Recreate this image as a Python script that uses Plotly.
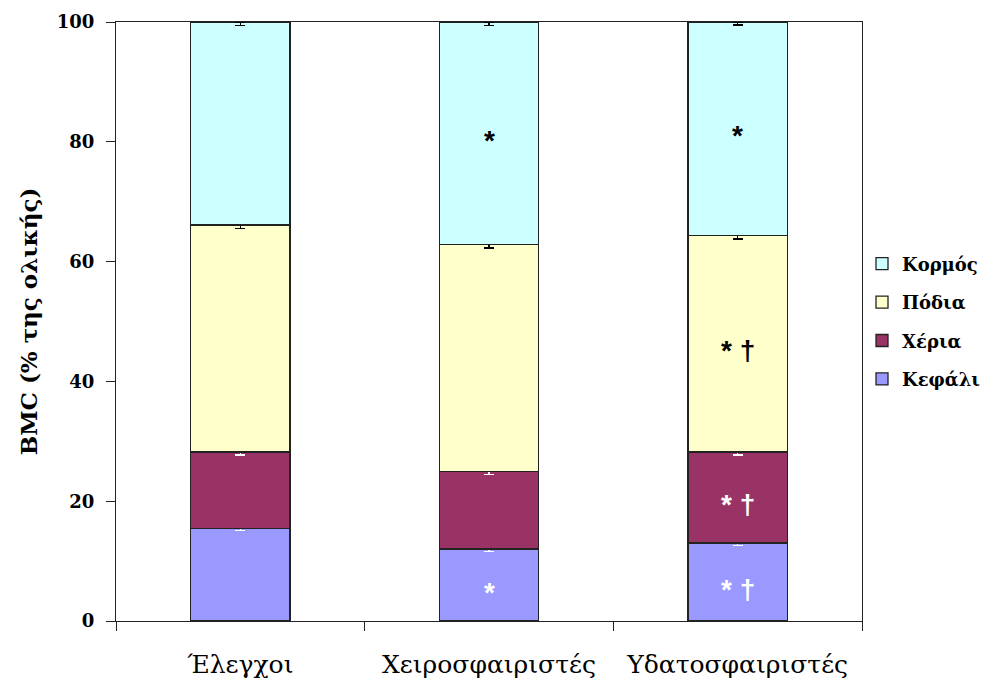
import plotly.graph_objects as go

# Groups and regional BMC shares (% of total), stacked bottom to top
groups = ["Έλεγχοι", "Χειροσφαιριστές", "Υδατοσφαιριστές"]
kefali = [15.5, 12.0, 13.0]
xeria = [12.7, 13.0, 15.2]
podia = [37.9, 37.9, 36.2]
kormos = [33.9, 37.1, 35.6]

# Standard errors (drawn downwards from each segment top)
kefali_err = [0.4, 0.4, 0.4]
xeria_err = [0.5, 0.5, 0.5]
podia_err = [0.6, 0.6, 0.6]
kormos_err = [0.6, 0.6, 0.5]

# Significance marks inside each segment
kefali_sig = ["", "*", "* †"]
xeria_sig = ["", "", "* †"]
podia_sig = ["", "", "* †"]
kormos_sig = ["", "*", "*"]

y_ticks = [0, 20, 40, 60, 80, 100]

series = [
    ("Κεφάλι", kefali, kefali_err, kefali_sig, "#9999FF", "white"),
    ("Χέρια", xeria, xeria_err, xeria_sig, "#993366", "white"),
    ("Πόδια", podia, podia_err, podia_sig, "#FFFFCC", "black"),
    ("Κορμός", kormos, kormos_err, kormos_sig, "#CCFFFF", "black"),
]

fig = go.Figure()
annotations = []
base = [0.0] * len(groups)
for k, (name, vals, err, sig, color, ink) in enumerate(series):
    fig.add_trace(go.Bar(
        x=groups, y=vals, name=name, legendgroup=name,
        legendrank=len(series) - k,
        marker=dict(color=color, line=dict(color="#222222", width=1.3)),
        error_y=dict(type="data", symmetric=False,
                     array=[0] * len(vals), arrayminus=err,
                     color=ink, thickness=1.5, width=5),
        width=0.4,
    ))
    for i, g in enumerate(groups):
        if sig[i]:
            annotations.append(dict(
                x=g, y=base[i] + vals[i] / 2, xref="x", yref="y",
                text=sig[i], showarrow=False, yshift=-7,
                font=dict(family="Liberation Sans", size=28, color=ink,
                          weight="bold"),
            ))
        base[i] += vals[i]

fig.update_layout(
    width=999, height=684,
    barmode="stack",
    plot_bgcolor="white", paper_bgcolor="white",
    margin=dict(l=116, r=137, t=22, b=63, autoexpand=False),
    font=dict(family="DejaVu Serif", color="black"),
    annotations=annotations,
    showlegend=True,
    legend=dict(
        x=1.0, y=0.5, xanchor="left", yanchor="middle",
        traceorder="grouped", tracegroupgap=12,
        bgcolor="rgba(0,0,0,0)",
        font=dict(family="DejaVu Serif", size=18, color="black",
                  weight="bold"),
        itemwidth=30,
    ),
)

fig.update_xaxes(
    range=[-0.5, 2.5],
    showline=True, linecolor="#222222", linewidth=1.3, mirror=True,
    ticks="outside", tickson="boundaries", ticklen=9, tickcolor="#222222",
    tickfont=dict(family="DejaVu Serif", size=25, color="black"),
    ticklabelstandoff=21,
    showgrid=False,
)
fig.update_yaxes(
    range=[0, 100], tickvals=y_ticks,
    showline=True, linecolor="#222222", linewidth=1.3, mirror=True,
    ticks="outside", ticklen=9, tickcolor="#222222",
    tickfont=dict(family="DejaVu Serif", size=18, color="black", weight="bold"),
    ticklabelstandoff=8,
    showgrid=False, zeroline=False,
    title=dict(text="BMC (% της ολικής)", standoff=12,
               font=dict(family="DejaVu Serif", size=23, color="black", weight="bold")),
)

fig.write_html("out.html")
